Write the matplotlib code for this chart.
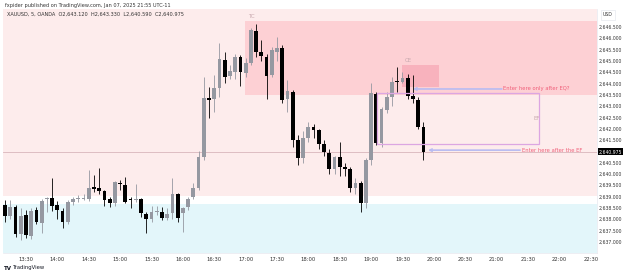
#!/usr/bin/env python3
"""XAUUSD 5m snapshot with the TC / CE / EF markup, redrawn."""
import matplotlib
matplotlib.use("Agg")
import matplotlib.pyplot as plt
import matplotlib.transforms as mtransforms
from matplotlib.patches import Rectangle
import numpy as np

plt.rcParams.update({
    "font.family": "DejaVu Sans",
    "font.size": 4,
})

# 5-minute bars from 13:10 to 19:50
opens = [2638.63, 2638.15, 2638.54, 2637.35, 2638.20, 2637.27, 2638.40, 2637.85, 2638.88, 2638.95,
         2638.63, 2638.37, 2637.90, 2638.75, 2638.88, 2638.90, 2638.88, 2639.42, 2639.40, 2639.25,
         2638.88, 2638.70, 2639.62, 2639.50, 2638.90, 2638.85, 2638.90, 2638.23, 2638.00, 2638.30,
         2638.32, 2638.05, 2638.26, 2639.12, 2638.26, 2638.52, 2639.00, 2639.37, 2640.74, 2643.37,
         2643.30, 2643.78, 2645.03, 2644.33, 2644.50, 2645.15, 2644.47, 2644.88, 2646.32, 2645.40,
         2645.18, 2644.37, 2645.40, 2645.55, 2643.30, 2643.63, 2641.50, 2640.70, 2641.60, 2642.07,
         2641.95, 2641.30, 2640.92, 2640.20, 2640.76, 2640.30, 2640.20, 2639.40, 2639.60, 2638.70,
         2640.60, 2643.53, 2641.35, 2642.83, 2643.41, 2644.10, 2644.07, 2644.25, 2643.46, 2643.27,
         2642.09]
highs = [2638.85, 2638.85, 2638.63, 2638.50, 2638.40, 2638.50, 2638.55, 2638.90, 2639.00, 2639.84,
         2638.80, 2638.50, 2638.85, 2639.00, 2639.05, 2639.10, 2640.18, 2639.95, 2640.25, 2639.30,
         2639.00, 2639.70, 2639.75, 2639.85, 2639.00, 2639.55, 2638.95, 2638.30, 2638.60, 2638.60,
         2638.55, 2638.50, 2639.80, 2639.15, 2638.55, 2639.00, 2639.60, 2641.00, 2644.30, 2643.83,
         2644.37, 2645.77, 2645.40, 2644.80, 2645.30, 2645.25, 2645.10, 2646.45, 2646.62, 2645.90,
         2645.30, 2645.60, 2646.06, 2645.70, 2644.15, 2643.70, 2641.70, 2641.90, 2642.30, 2642.20,
         2642.00, 2641.50, 2641.10, 2640.80, 2641.43, 2640.50, 2640.30, 2639.80, 2639.70, 2640.70,
         2644.00, 2643.60, 2642.95, 2643.62, 2644.30, 2644.74, 2644.50, 2644.41, 2644.37, 2643.40,
         2642.30]
lows = [2637.88, 2638.00, 2637.20, 2637.10, 2637.17, 2637.12, 2637.80, 2637.40, 2638.30, 2638.35,
        2638.00, 2637.60, 2637.80, 2638.63, 2638.75, 2638.85, 2638.80, 2639.20, 2639.10, 2638.60,
        2638.55, 2638.60, 2639.30, 2638.70, 2638.50, 2638.75, 2638.10, 2637.38, 2637.90, 2638.20,
        2637.95, 2637.95, 2638.00, 2637.90, 2637.45, 2638.40, 2638.90, 2639.30, 2640.60, 2642.46,
        2642.75, 2643.40, 2644.00, 2644.20, 2644.20, 2643.90, 2644.30, 2644.80, 2645.18, 2645.00,
        2643.30, 2644.30, 2645.00, 2643.13, 2642.75, 2641.20, 2640.40, 2640.50, 2641.40, 2641.60,
        2641.10, 2640.80, 2640.00, 2640.00, 2639.90, 2639.90, 2639.20, 2639.10, 2638.30, 2638.50,
        2640.40, 2641.28, 2641.20, 2642.70, 2643.00, 2643.60, 2644.00, 2643.30, 2643.15, 2642.00,
        2640.62]
closes = [2638.15, 2638.56, 2637.35, 2638.15, 2637.30, 2638.38, 2637.90, 2638.80, 2638.93, 2638.60,
          2638.40, 2637.88, 2638.77, 2638.90, 2638.92, 2638.93, 2639.40, 2639.34, 2639.26, 2638.85,
          2638.72, 2639.64, 2639.55, 2638.78, 2638.85, 2638.90, 2638.27, 2638.00, 2638.30, 2638.36,
          2638.05, 2638.23, 2639.10, 2638.07, 2638.48, 2638.90, 2639.37, 2640.74, 2643.37, 2643.27,
          2643.78, 2645.06, 2644.30, 2644.56, 2645.18, 2644.49, 2644.91, 2646.35, 2645.40, 2645.20,
          2644.34, 2645.47, 2645.57, 2643.27, 2643.66, 2641.50, 2640.70, 2641.60, 2642.07, 2641.95,
          2641.30, 2640.95, 2640.20, 2640.75, 2640.30, 2640.20, 2639.40, 2639.60, 2638.70, 2640.61,
          2643.56, 2641.38, 2642.85, 2643.41, 2644.07, 2644.05, 2644.22, 2643.46, 2643.30, 2642.09,
          2640.975]

time_labels = ["13:30", "14:00", "14:30", "15:00", "15:30", "16:00", "16:30", "17:00", "17:30",
               "18:00", "18:30", "19:00", "19:30", "20:00", "20:30", "21:00", "21:30", "22:00",
               "22:30"]
first_label_bar = 4     # 13:30 is the 5th bar after 13:10
bars_per_label = 6

last_price = 2640.975
upper_band_low = 2639.03    # light pink area above this
lower_band_high = 2638.66   # light cyan area below this
tc_zone = (45.9, 2643.50, 2646.75)          # start bar, bottom, top
ce_box = (76.0, 83.0, 2643.85, 2644.81)
ef_box = (71.05, 102.1, 2641.31, 2643.56)

GRAY = "#9598a1"
PINK = "#fdecec"
ZONE = "#fdd0d4"
CE_PINK = "#f8b2bd"
CYAN = "#e3f6fa"
ARROW = "#b9bcf2"
NOTE = "#f0607a"
LABEL = "#c8a8ae"

XMIN, XMAX = -0.4, 113.2
YMIN, YMAX = 2636.51, 2647.28

fig = plt.figure(figsize=(6.25, 2.75), dpi=100)
ax = fig.add_axes([3 / 625, 22 / 275, 594 / 625, 244 / 275])
ax.set_xlim(XMIN, XMAX)
ax.set_ylim(YMIN, YMAX)

ax.axhspan(upper_band_low, YMAX, color=PINK, lw=0, zorder=0)
ax.axhspan(YMIN, lower_band_high, color=CYAN, lw=0, zorder=0)
ax.add_patch(Rectangle((tc_zone[0], tc_zone[1]), XMAX - tc_zone[0], tc_zone[2] - tc_zone[1],
                       color=ZONE, lw=0, zorder=1))
ax.add_patch(Rectangle((ce_box[0], ce_box[2]), ce_box[1] - ce_box[0], ce_box[3] - ce_box[2],
                       color=CE_PINK, lw=0, zorder=1))
ax.axhline(last_price, color="#d9b6bb", lw=0.6, zorder=2)

o = np.array(opens)
c = np.array(closes)
x = np.arange(len(o))
colors = np.where(c >= o, GRAY, "black")
ax.vlines(x, lows, highs, colors=colors, lw=0.6, zorder=3)
body = np.maximum(np.abs(c - o), 0.03)
ax.bar(x, body, bottom=np.minimum(o, c), width=0.72, color=colors, lw=0, zorder=4)

ax.add_patch(Rectangle((ef_box[0], ef_box[2]), ef_box[1] - ef_box[0], ef_box[3] - ef_box[2],
                       fill=False, ec="#dca6e2", lw=0.9, zorder=5))

ax.text(tc_zone[0] + 0.6, 2646.93, "TC", color=LABEL, fontsize=4, va="center")
ax.text(ce_box[0] + 0.5, 2644.99, "CE", color=LABEL, fontsize=4, va="center")
ax.text(ef_box[1] - 1.0, 2642.43, "EF", color=LABEL, fontsize=4, va="center")

notes = [(95.0, 78.0, 2643.75, "Enter here only after EQ?"),
         (98.5, 80.9, 2641.05, "Enter here after the EF")]
for x0, x1, y, label in notes:
    ax.annotate("", xy=(x1, y), xytext=(x0, y),
                arrowprops=dict(arrowstyle="->", color=ARROW, lw=1.2,
                                shrinkA=0, shrinkB=0), zorder=6)
    ax.text(x0 + 0.3, y, label, color=NOTE, fontsize=3.8, va="center")

ax.set_xticks([first_label_bar + bars_per_label * k for k in range(len(time_labels))])
ax.set_xticklabels(time_labels)
yt = np.arange(2637.0, 2646.51, 0.5)
ax.set_yticks(yt)
ax.set_yticklabels([f"{v:,.3f}" for v in yt])
ax.yaxis.tick_right()
ax.tick_params(axis="both", length=0, labelcolor="#333333")
ax.tick_params(axis="x", pad=3, labelsize=3.8)
ax.tick_params(axis="y", pad=1.5, labelsize=3.3)
for side in ["left", "top"]:
    ax.spines[side].set_visible(False)
for side in ["right", "bottom"]:
    ax.spines[side].set_color("#e6e8ee")
    ax.spines[side].set_linewidth(0.5)

trans = mtransforms.blended_transform_factory(ax.transAxes, ax.transData)
ax.text(1.003, last_price, "2,640.975", transform=trans, color="white", fontsize=3.3,
        va="center", ha="left", zorder=10,
        bbox=dict(boxstyle="square,pad=0.2", fc="black", ec="none"))

fig.text(603 / 625, 1 - 15 / 275, "USD", fontsize=3.3, color="#333333", va="center",
         bbox=dict(boxstyle="square,pad=0.5", fc="white", ec="#e0e3eb", lw=0.4))
fig.text(5 / 625, 1 - 5 / 275, "fxpider published on TradingView.com, Jan 07, 2025 21:55 UTC-11",
         fontsize=3.6, color="#333333", va="center")
fig.text(7 / 625, 1 - 14 / 275,
         "XAUUSD, 5, OANDA  O2,643.120  H2,643.330  L2,640.590  C2,640.975",
         fontsize=3.6, color="#333333", va="center")
fig.text(4 / 625, 1 - 268 / 275, "TV", fontsize=4, weight="bold", color="#131722", va="center")
fig.text(13 / 625, 1 - 268 / 275, "TradingView", fontsize=3.8, color="#131722", va="center")

fig.savefig("out.png", dpi=100, facecolor="white")
